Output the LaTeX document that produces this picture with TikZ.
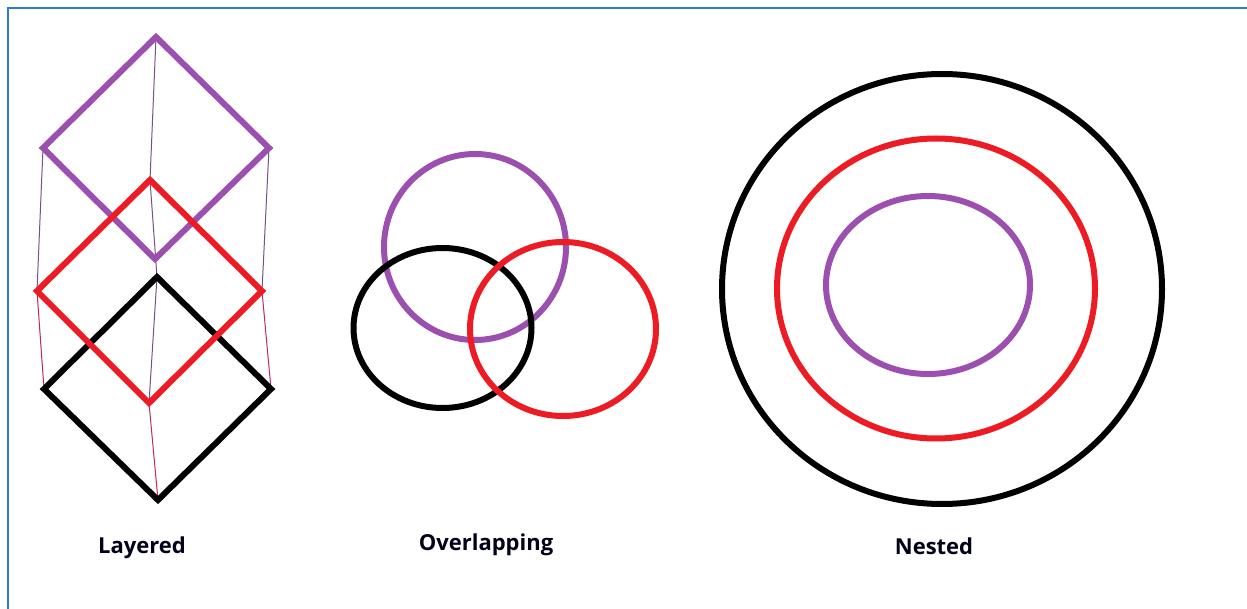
\documentclass[tikz,border=0pt]{standalone}
\usepackage{fontspec}
\setmainfont{Open Sans}
\definecolor{vio}{RGB}{155,80,176}
\definecolor{rd}{RGB}{237,28,36}
\definecolor{frame}{RGB}{43,124,211}
\definecolor{thinvio}{RGB}{120,80,130}
\definecolor{thinrd}{RGB}{190,40,90}
\begin{document}
\begin{tikzpicture}[x=1pt,y=-1pt,
  shapeline/.style={line width=6pt,line join=miter},
  linkline/.style={line width=1pt},
  lbl/.style={font=\fontsize{22}{26}\selectfont\bfseries,text=black!90!blue,inner sep=0pt}]
\useasboundingbox (0,0) rectangle (1247,609);
\fill[white] (0,0) rectangle (1247,609);
\draw[frame,line width=2pt] (8,609) -- (8,8) -- (1247,8);
% Layered
\coordinate (pt) at (156,37); \coordinate (pl) at (43,148); \coordinate (pr) at (269,148); \coordinate (pb) at (155,259);
\coordinate (rt) at (150,180); \coordinate (rl) at (37,291); \coordinate (rr) at (262,291); \coordinate (rb) at (149,403);
\coordinate (kt) at (157,277); \coordinate (kl) at (44,389); \coordinate (kr) at (271,389); \coordinate (kb) at (158,500);
\draw[linkline,thinvio] (pt) -- (rt) -- (kt);
\draw[linkline,thinvio] (pl) -- (rl);
\draw[linkline,thinvio] (pr) -- (rr);
\draw[linkline,thinrd] (rl) -- (kl);
\draw[linkline,thinrd] (rr) -- (kr);
\draw[linkline,thinvio] (kt) -- (rb);
\draw[linkline,thinrd] (rb) -- (kb);
\draw[shapeline,vio] (pt) -- (pr) -- (pb) -- (pl) -- cycle;
\draw[shapeline,black] (kt) -- (kr) -- (kb) -- (kl) -- cycle;
\draw[shapeline,rd] (rt) -- (rr) -- (rb) -- (rl) -- cycle;
% Overlapping
\coordinate (ov) at (475,247);
\coordinate (ok) at (442.5,328);
\coordinate (or) at (563,329);
\draw[shapeline,vio] (ov) ellipse (91 and 93);
\draw[shapeline,black] (ok) ellipse (89 and 80);
\draw[shapeline,rd] (or) ellipse (93 and 87);
% Nested
\coordinate (nk) at (942,289);
\coordinate (nr) at (936,288.5);
\coordinate (nv) at (928,285);
\draw[shapeline,black] (nk) ellipse (220 and 215);
\draw[shapeline,rd] (nr) ellipse (159 and 150);
\draw[shapeline,vio] (nv) ellipse (102 and 89);
% Labels
\node[lbl] (l1) at (142,548) {Layered};
\node[lbl] (l2) at (486,545) {Overlapping};
\node[lbl] (l3) at (934,546) {Nested};
\end{tikzpicture}
\end{document}
